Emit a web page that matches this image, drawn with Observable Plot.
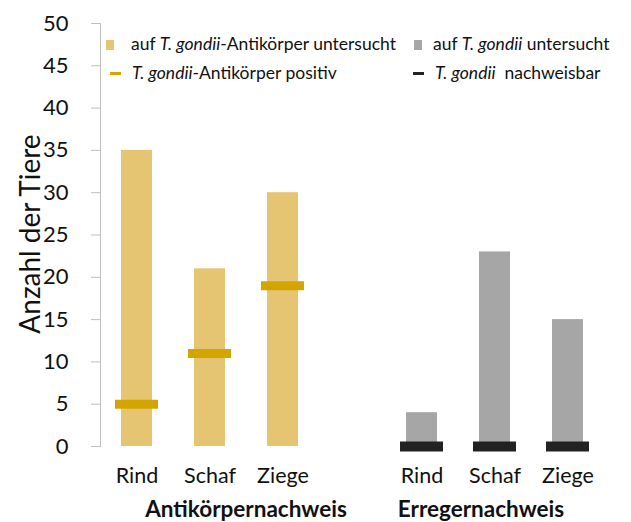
<!DOCTYPE html>
<html><head><meta charset="utf-8">
<script src="https://cdn.jsdelivr.net/npm/d3@7"></script>
<script src="https://cdn.jsdelivr.net/npm/@observablehq/plot@0.6"></script>
<style>
body{margin:0;background:#fff;font-family:Lato,"Open Sans",sans-serif;color:#111;}
#wrap{position:relative;width:631px;height:522px;overflow:hidden;}
.lt{position:absolute;font-size:17.5px;line-height:20px;white-space:nowrap;color:#111;}
.sw{position:absolute;}
#ylab{position:absolute;left:29px;top:234px;transform:translate(-50%,-50%) rotate(-90deg);font-size:28px;white-space:nowrap;color:#111;}
</style></head><body><div id="wrap"></div>
<script>
const groupNames = ["Antikörpernachweis","Erregernachweis"];
const categories = ["Rind","Schaf","Ziege"];
const groups = ["Antikörpernachweis","Antikörpernachweis","Antikörpernachweis","Erregernachweis","Erregernachweis","Erregernachweis"];
const animals = ["Rind","Schaf","Ziege","Rind","Schaf","Ziege"];
const examined = [35,21,30,4,23,15];
const positive = [5,11,19,0,0,0];
const yTicks = [0,5,10,15,20,25,30,35,40,45,50];

const colBarA = "#E6C572", colTickA = "#D4A500", colBarE = "#A6A6A6", colTickE = "#222222";

const data = animals.map((a,i)=>({group:groups[i], animal:a, examined:examined[i], positive:positive[i]}));
const dA = data.filter(d=>d.group===groupNames[0]);
const dE = data.filter(d=>d.group===groupNames[1]);

const plot = Plot.plot({
  width: 631, height: 522,
  marginTop: 23, marginBottom: 76, marginLeft: 100, marginRight: 27,
  style: {fontFamily: "Lato, 'Open Sans', sans-serif", color: "#111", background: "transparent"},
  fx: {domain: groupNames, paddingInner: 0.232, paddingOuter: 0, axis: null},
  x: {domain: categories, paddingInner: 0.575, paddingOuter: 0.2875, axis: null},
  y: {domain: [0,50], axis: null},
  marks: [
    Plot.frame({anchor: "left", facetAnchor: "left", stroke: "#bfbfbf"}),
    Plot.axisY({ticks: yTicks, tickSize: 9, tickPadding: 23, fontSize: 22, stroke: "#bfbfbf", label: null, tickFormat: d=>String(d)}),
    Plot.axisX({tickSize: 0, tickPadding: 21, fontSize: 21.5, label: null}),
    Plot.barY(dA, {fx: "group", x: "animal", y: "examined", fill: colBarA}),
    Plot.barY(dE, {fx: "group", x: "animal", y: "examined", fill: colBarE}),
    Plot.tickY(dA, {fx: "group", x: "animal", y: "positive", stroke: colTickA, strokeWidth: 9, insetLeft: -6, insetRight: -6}),
    Plot.tickY(dE, {fx: "group", x: "animal", y: "positive", stroke: colTickE, strokeWidth: 10, insetLeft: -6, insetRight: -6}),
    Plot.text([groupNames[0]], {fx: d=>d, text: d=>d, frameAnchor: "bottom", dy: 70, dx: 36, fontWeight: "bold", fontSize: 22.5}),
    Plot.text([groupNames[1]], {fx: d=>d, text: d=>d, frameAnchor: "bottom", dy: 70, dx: -14, fontWeight: "bold", fontSize: 22.5})
  ]
});

const wrap = document.getElementById("wrap");
wrap.appendChild(plot);
plot.style.position = "absolute"; plot.style.left = "0"; plot.style.top = "0";

const legendHTML = `
<div class="sw" style="left:106px;top:40px;width:8px;height:10px;background:${colBarA}"></div>
<div class="lt" style="left:131px;top:34px">auf <i>T. gondii</i>-Antikörper untersucht</div>
<div class="sw" style="left:414px;top:40px;width:8px;height:10px;background:${colBarE}"></div>
<div class="lt" style="left:433px;top:34px">auf <i>T. gondii</i> untersucht</div>
<div class="sw" style="left:110px;top:72px;width:11px;height:3px;background:${colTickA}"></div>
<div class="lt" style="left:132px;top:63px"><i>T. gondii</i>-Antikörper positiv</div>
<div class="sw" style="left:413px;top:72px;width:11px;height:3px;background:${colTickE}"></div>
<div class="lt" style="left:435px;top:63px"><i>T. gondii</i>&nbsp; nachweisbar</div>
<div id="ylab">Anzahl der Tiere</div>`;
wrap.insertAdjacentHTML("beforeend", legendHTML);
</script>
</body></html>
